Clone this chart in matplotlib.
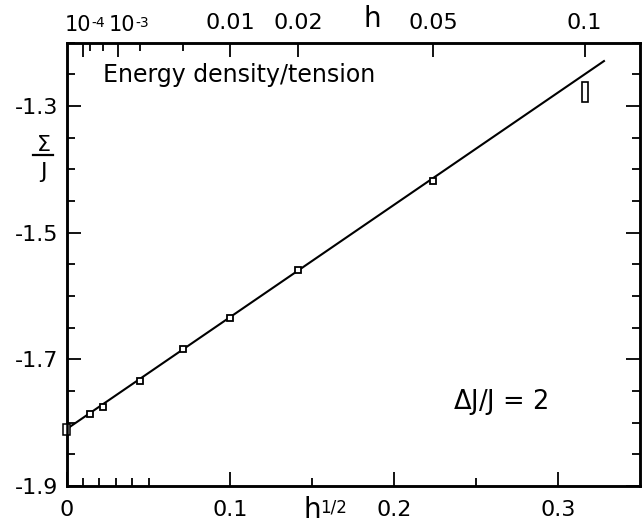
#!/usr/bin/env python
# -*- coding: utf-8 -*-
"""Energy density / tension versus h^(1/2), with h on the top axis."""

import numpy as np
import matplotlib
matplotlib.use('Agg')
import matplotlib.pyplot as plt
from matplotlib.ticker import FixedLocator, NullFormatter

##############################################################################
# Data

# field values h of the simulation points
h_points = [2e-4, 5e-4, 2e-3, 5e-3, 0.01, 0.02, 0.05]
sigma_points = [-1.787, -1.775, -1.734, -1.684, -1.635, -1.559, -1.418]

# zero-field value, drawn as a larger box
h_zero = 0.0
sigma_zero = -1.810

# the off-line point at h = 0.1 is drawn as a tall box (error range)
h_outlier = 0.1
sigma_outlier_lo = -1.293
sigma_outlier_hi = -1.262

# straight fit through the points
fit_sqrt_h = [0.0, 0.328]
fit_sigma = [-1.810, -1.229]

# axes ticks
x_major = [0.0, 0.1, 0.2, 0.3]
x_labels = ['0', '0.1', '0.2', '0.3']
x_minor = [0.01, 0.02, 0.03, 0.04, 0.05, 0.15, 0.25]
y_major = [-1.9, -1.7, -1.5, -1.3]
y_labels = ['-1.9', '-1.7', '-1.5', '-1.3']
y_minor = np.arange(-1.85, -1.2, 0.05)
h_major = [1e-4, 1e-3, 0.01, 0.02, 0.05, 0.1]
h_major_labels = ['', '', '0.01', '0.02', '0.05', '0.1']
h_power = [1e-4, 1e-3]
h_power_exp = ['-4', '-3']
h_minor = [2e-4, 5e-4, 2e-3, 5e-3]

#-----------------------------------------------------------------------------
plt.rcParams['font.family'] = 'DejaVu Sans'
plt.rcParams['mathtext.fontset'] = 'dejavusans'
plt.rcParams['axes.unicode_minus'] = False

W, H = 644, 525
PT = 0.72   # points per pixel at dpi 100


def px(x, y):
    """figure fraction from pixel position (origin top left)"""
    return x / W, 1 - y / H


fig = plt.figure(figsize=(W / 100, H / 100), dpi=100)
ax = fig.add_axes([66.7 / W, 1 - 486 / H, (640 - 66.7) / W, (486 - 42.7) / H])

ax.set_xlim(0, 0.35)
ax.set_ylim(-1.9, -1.2)

# data units per pixel, for sizing the boxes
dx = 0.35 / (640 - 66.7)
dy = 0.7 / (486 - 42.7)

ax.plot(fit_sqrt_h, fit_sigma, color='black', lw=1.5, zorder=2)
ax.plot(np.sqrt(h_points), sigma_points, 's', ms=4.5,
        mfc='white', mec='black', mew=1.3, zorder=3)

# zero-field point: tall box on the axis
x0 = np.sqrt(h_zero)
ax.add_patch(plt.Rectangle((x0 - 3.5 * dx, sigma_zero - 5.5 * dy), 7 * dx,
                           11 * dy, fill=True, fc='white', ec='black',
                           lw=1.1, zorder=4, clip_on=False))

# outlier box at h = 0.1
xo = np.sqrt(h_outlier)
ax.add_patch(plt.Rectangle((xo - 3 * dx, sigma_outlier_lo), 6 * dx,
                           sigma_outlier_hi - sigma_outlier_lo,
                           fill=False, ec='black', lw=1.2))

# ticks
ax.set_xticks(x_major)
ax.set_xticklabels(x_labels)
ax.xaxis.set_minor_locator(FixedLocator(x_minor))
ax.set_yticks(y_major)
ax.set_yticklabels(y_labels)
ax.yaxis.set_minor_locator(FixedLocator(y_minor))
ax.tick_params(which='both', direction='in', right=True, width=1.3,
               labelsize=16)
ax.tick_params(axis='x', pad=10)
ax.tick_params(axis='y', pad=6)
ax.tick_params(which='major', length=10)
ax.tick_params(which='minor', length=6)
for sp in ax.spines.values():
    sp.set_linewidth(1.8)

# top axis in h
top = ax.twiny()
top.set_xlim(ax.get_xlim())
top.set_xticks(np.sqrt(h_major))
top.set_xticklabels(h_major_labels)
top.xaxis.set_minor_locator(FixedLocator(np.sqrt(h_minor)))
top.xaxis.set_minor_formatter(NullFormatter())
top.tick_params(which='both', direction='in', width=1.3, labelsize=16, pad=7)
top.tick_params(which='major', length=10)
top.tick_params(which='minor', length=6)
for sp in top.spines.values():
    sp.set_linewidth(1.8)

# the two powers of ten sit close together, so set them by hand
for hv, ex, off in zip(h_power, h_power_exp, (-18, -10)):
    base = top.annotate('10', xy=(np.sqrt(hv), 1),
                        xycoords=('data', 'axes fraction'),
                        xytext=(off * PT, 11.5 * PT), textcoords='offset points',
                        ha='left', va='baseline', fontsize=15)
    top.annotate(ex, xy=(1, 0), xycoords=base,
                 xytext=(0, 8 * PT), textcoords='offset points',
                 ha='left', va='baseline', fontsize=10)

# axis titles
fig.text(*px(372, 19), 'h', fontsize=20, ha='center', va='center')
fig.text(*px(303, 496), 'h', fontsize=20, ha='left', va='top')
fig.text(*px(320, 499), '1/2', fontsize=12, ha='left', va='top')

# Sigma over J, built by hand so both parts stay upright
fig.text(*px(43, 145), r'$\Sigma$', fontsize=16, ha='center', va='center')
fig.add_artist(plt.Line2D([33 / W, 53 / W], [1 - 155.5 / H, 1 - 155.5 / H],
                          color='black', lw=1.6))
fig.text(*px(43, 172), 'J', fontsize=16, ha='center', va='center')

fig.text(*px(103, 75), 'Energy density/tension', fontsize=17,
         ha='left', va='center')
fig.text(*px(453, 402), r'$\Delta$J/J = 2', fontsize=18.5,
         ha='left', va='center')

fig.savefig('out.png', dpi=100)
